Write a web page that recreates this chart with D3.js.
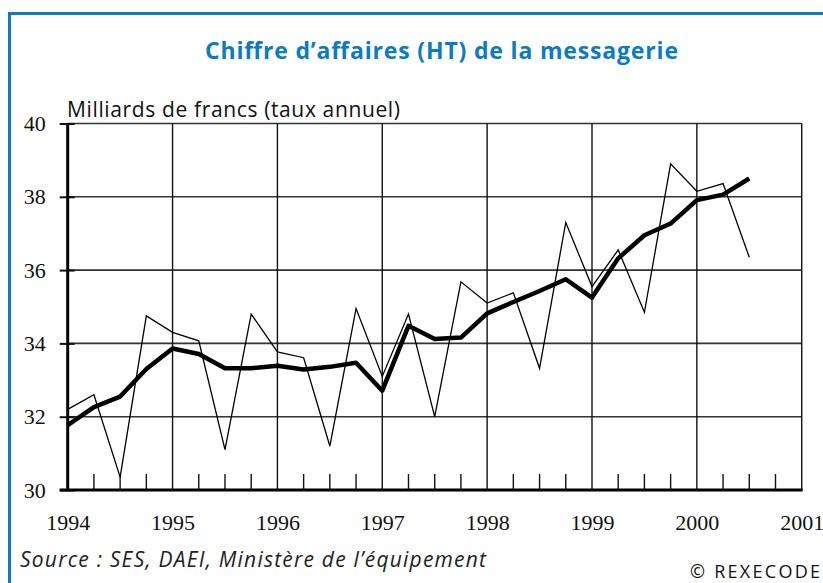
<!DOCTYPE html>
<html>
<head>
<meta charset="utf-8">
<script src="https://cdn.jsdelivr.net/npm/d3@7"></script>
<style>
  body { margin: 0; background: #fff; }
  svg { display: block; }
</style>
</head>
<body>
<div id="wrap"></div>
<script>
// quarterly points (decimal year)
const quarters = [
  1994.0, 1994.25, 1994.5, 1994.75,
  1995.0, 1995.25, 1995.5, 1995.75,
  1996.0, 1996.25, 1996.5, 1996.75,
  1997.0, 1997.25, 1997.5, 1997.75,
  1998.0, 1998.25, 1998.5, 1998.75,
  1999.0, 1999.25, 1999.5, 1999.75,
  2000.0, 2000.25, 2000.5
];
// raw quarterly series (thin line)
const rawValues = [
  32.2, 32.6, 30.35, 34.75,
  34.3, 34.07, 31.1, 34.8,
  33.77, 33.61, 31.2, 34.95,
  33.1, 34.8, 32.0, 35.68,
  35.1, 35.38, 33.32, 37.3,
  35.55, 36.55, 34.85, 38.9,
  38.15, 38.36, 36.35
];
// smoothed series (thick line)
const smoothValues = [
  31.77, 32.26, 32.55, 33.3,
  33.86, 33.71, 33.32, 33.32,
  33.39, 33.29, 33.36, 33.47,
  32.71, 34.48, 34.12, 34.16,
  34.82, 35.13, 35.43, 35.75,
  35.25, 36.32, 36.95, 37.27,
  37.91, 38.06, 38.5
];
const yearTicks = [1994, 1995, 1996, 1997, 1998, 1999, 2000, 2001];
const valueTicks = [30, 32, 34, 36, 38, 40];

const W = 823, H = 583;
const blue = "#0a7cc4";

const svg = d3.select("#wrap").append("svg")
  .attr("width", W).attr("height", H);

// blue frame (open on right / bottom)
svg.append("path")
  .attr("d", "M9.5,583 V13.5 H823")
  .attr("fill", "none")
  .attr("stroke", blue)
  .attr("stroke-width", 3);

svg.append("text")
  .attr("x", 205).attr("y", 59)
  .attr("textLength", 473).attr("lengthAdjust", "spacing")
  .attr("font-family", "'Open Sans', sans-serif")
  .attr("font-weight", "bold")
  .attr("font-size", 23)
  .attr("fill", blue)
  .text("Chiffre d\u2019affaires (HT) de la messagerie");

const x = d3.scaleLinear().domain([1994, 2001]).range([67.7, 801.7]);
const y = d3.scaleLinear().domain([30, 40]).range([490, 123.5]);

const g = svg.append("g");

// horizontal grid
g.selectAll("line.hg").data(valueTicks.filter(v => v > 30)).join("line")
  .attr("class", "hg")
  .attr("x1", x(1994)).attr("x2", x(2001))
  .attr("y1", d => y(d)).attr("y2", d => y(d))
  .attr("stroke", "#333").attr("stroke-width", 1.6);

// vertical grid
g.selectAll("line.vg").data(yearTicks.filter(v => v > 1994)).join("line")
  .attr("class", "vg")
  .attr("y1", y(30)).attr("y2", y(40))
  .attr("x1", d => x(d)).attr("x2", d => x(d))
  .attr("stroke", "#111").attr("stroke-width", 1.4);

// quarter minor ticks along bottom
g.selectAll("line.qt").data(quarters.concat([2000.75]).filter(q => q % 1 !== 0)).join("line")
  .attr("class", "qt")
  .attr("x1", d => x(d)).attr("x2", d => x(d))
  .attr("y1", y(30)).attr("y2", y(30) - 16)
  .attr("stroke", "#111").attr("stroke-width", 1.4);

// y axis
const yAxis = d3.axisLeft(y).tickValues(valueTicks).tickSize(8).tickPadding(14);
const ya = g.append("g")
  .attr("transform", `translate(${x(1994)},0)`)
  .call(yAxis);
ya.select(".domain").remove();
ya.selectAll(".tick line").attr("stroke", "#111").attr("stroke-width", 2).attr("x2", -8).attr("x1", 7);
ya.selectAll(".tick text")
  .attr("font-family", "'Liberation Serif', 'Times New Roman', serif")
  .attr("font-size", 22).attr("fill", "#111");

// x axis labels
const xAxis = d3.axisBottom(x).tickValues(yearTicks).tickFormat(d3.format("d")).tickSize(0).tickPadding(24);
const xa = g.append("g")
  .attr("transform", `translate(0,${y(30)})`)
  .call(xAxis);
xa.select(".domain").remove();
xa.selectAll(".tick text")
  .attr("font-family", "'Liberation Serif', 'Times New Roman', serif")
  .attr("font-size", 22).attr("fill", "#111");

// thick axes lines
g.append("line")
  .attr("x1", x(1994)).attr("x2", x(1994))
  .attr("y1", y(30)).attr("y2", y(40))
  .attr("stroke", "#000").attr("stroke-width", 3);
g.append("line")
  .attr("x1", x(1994) - 8).attr("x2", x(2001) + 1)
  .attr("y1", y(30)).attr("y2", y(30))
  .attr("stroke", "#000").attr("stroke-width", 3);

const line = d3.line()
  .x(d => x(d[0]))
  .y(d => y(d[1]));

g.append("path")
  .datum(d3.zip(quarters, rawValues))
  .attr("d", line)
  .attr("fill", "none")
  .attr("stroke", "#000")
  .attr("stroke-width", 1.3);

g.append("path")
  .datum(d3.zip(quarters, smoothValues))
  .attr("d", line)
  .attr("fill", "none")
  .attr("stroke", "#000")
  .attr("stroke-width", 4.5)
  .attr("stroke-linejoin", "round");

// unit label
svg.append("text")
  .attr("x", 67).attr("y", 117)
  .attr("textLength", 333).attr("lengthAdjust", "spacing")
  .attr("font-family", "'Open Sans', sans-serif")
  .attr("font-size", 21)
  .attr("fill", "#111")
  .text("Milliards de francs (taux annuel)");

svg.append("text")
  .attr("x", 20).attr("y", 567)
  .attr("textLength", 466).attr("lengthAdjust", "spacing")
  .attr("font-family", "'Open Sans', sans-serif")
  .attr("font-style", "italic")
  .attr("font-size", 21)
  .attr("fill", "#222")
  .text("Source : SES, DAEI, Minist\u00e8re de l\u2019\u00e9quipement");

svg.append("text")
  .attr("x", 690).attr("y", 578)
  .attr("textLength", 130).attr("lengthAdjust", "spacing")
  .attr("font-family", "'Open Sans', sans-serif")
  .attr("font-size", 18)
  .attr("fill", "#111")
  .text("\u00a9 REXECODE");
</script>
</body>
</html>
